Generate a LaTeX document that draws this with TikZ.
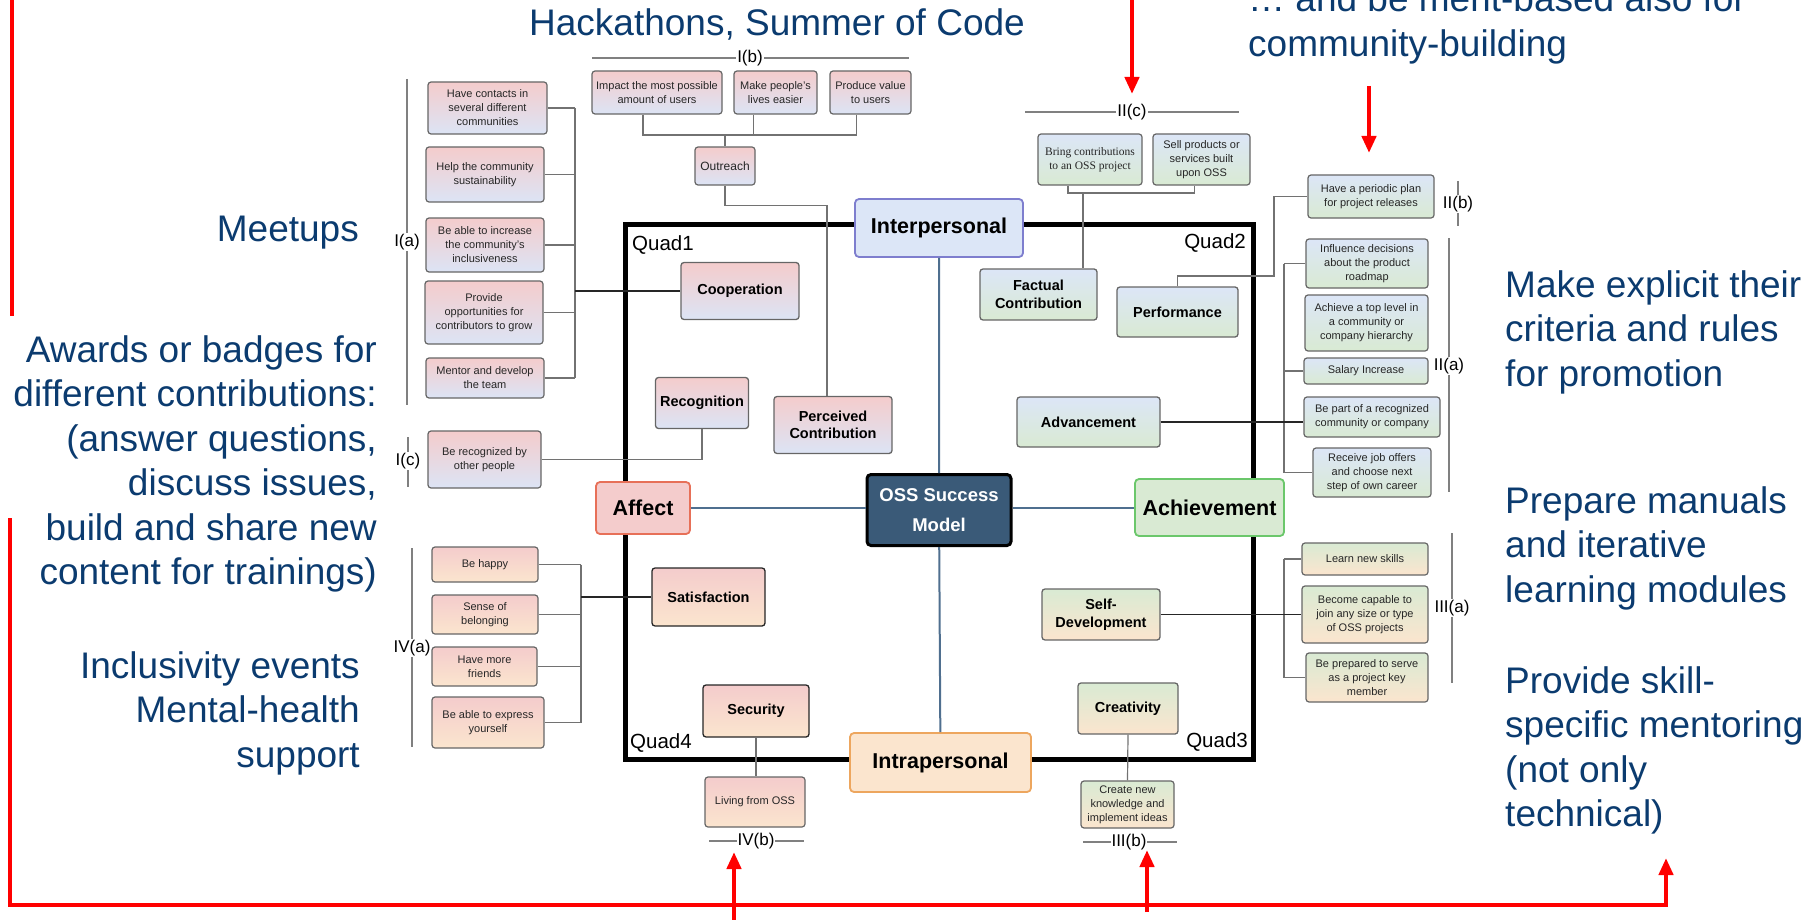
\documentclass[tikz,border=0pt]{standalone}
\usepackage{fontspec}
\setmainfont{Liberation Sans}
\newfontfamily\serifbox{Liberation Serif}
\usetikzlibrary{arrows.meta}

\definecolor{noteblue}{HTML}{0B3B6F}
\definecolor{redtop}{HTML}{F4CCCC}
\definecolor{bluebot}{HTML}{DCE4F5}
\definecolor{bluetop}{HTML}{DCE6F7}
\definecolor{greentop}{HTML}{D9EAD3}
\definecolor{orangebot}{HTML}{FBE5CE}
\definecolor{boxgray}{HTML}{666666}
\definecolor{linkgray}{HTML}{727272}
\definecolor{axisblue}{HTML}{4F6F8F}
\definecolor{ossfill}{HTML}{3A5A78}

\tikzset{
  dims/.style 2 args={minimum width=#1pt, minimum height=#2pt},
  leaf/.style={draw=boxgray, line width=1.2pt, rounded corners=3pt, align=center, inner sep=1pt,
    text=black!85, font=\fontsize{11}{14}\selectfont},
  facet/.style={draw=boxgray, line width=1.3pt, rounded corners=3pt, align=center, inner sep=1pt,
    font=\bfseries\fontsize{14.5}{17.5}\selectfont},
  pillar/.style={line width=1.8pt, rounded corners=4pt, align=center,
    font=\bfseries\fontsize{21.5}{24}\selectfont},
  qone/.style={top color=redtop, bottom color=bluebot},
  qtwo/.style={top color=bluetop, bottom color=greentop},
  qthree/.style={top color=greentop, bottom color=orangebot},
  qfour/.style={top color=redtop, bottom color=orangebot},
  link/.style={draw=linkgray, line width=1.2pt},
  wire/.style={draw=black!85, line width=1.3pt},
  axis/.style={draw=axisblue, line width=2pt},
  tagline/.style={draw=gray, line width=1.1pt},
  tag/.style={fill=white, inner sep=1pt, font=\fontsize{17}{19}\selectfont},
  quad/.style={inner sep=0pt, font=\fontsize{20.5}{22}\selectfont},
  note/.style={text=noteblue, inner sep=0pt, font=\fontsize{37}{44.5}\selectfont},
  redline/.style={draw=red, line width=4.5pt, line join=miter},
  redarrow/.style={redline, -{Triangle[length=17pt,width=14pt]}}
}

\begin{document}
\begin{tikzpicture}[x=1pt,y=-1pt]
  \useasboundingbox (0,0) rectangle (1817,920);

  \draw[line width=5pt] (625,224) rectangle (1253,759);

  \node[quad,anchor=west] (qa) at (632,245) {Quad1};
  \node[quad,anchor=east] (qb) at (1246,243) {Quad2};
  \node[quad,anchor=east] (qc) at (1248,742) {Quad3};
  \node[quad,anchor=west] (qd) at (630,743) {Quad4};

  \node[pillar,draw=black,line width=3pt,fill=ossfill,text=white,dims={144}{71},
    font=\bfseries\fontsize{18.5}{30}\selectfont] (oss) at (939,510) {OSS Success\\Model};
  \node[pillar,draw=blue!45!gray!70,fill=bluetop,dims={168}{58}] (inter) at (939,228) {Interpersonal};
  \node[pillar,draw=red!50!brown!75,fill=redtop,dims={94}{52}] (affect) at (643,508) {Affect};
  \node[pillar,draw=green!45!gray!80,fill=greentop,dims={149}{57}] (achieve) at (1209.5,507.5) {Achievement};
  \node[pillar,draw=orange!60!brown!70,fill=orangebot,dims={181}{59}] (intra) at (940.5,762.5) {Intrapersonal};

  \draw[axis] (inter) -- (oss) -- (intra);
  \draw[axis] (affect) -- (affect -| oss.west);
  \draw[axis] (oss.east |- achieve) -- (achieve);

  \node[facet,qone,dims={118}{57}] (coop) at (740,291) {Cooperation};
  \node[facet,qone,dims={93}{51}] (recog) at (702,403) {Recognition};
  \node[facet,qone,dims={118}{57}] (perc) at (833,425) {Perceived\\Contribution};
  \node[leaf,qone,dims={60}{38},font=\fontsize{12}{14}\selectfont] (outreach) at (725,166) {Outreach};
  \node[leaf,qone,dims={130}{43}] (impact) at (657,92.5) {Impact the most possible\\amount of users};
  \node[leaf,qone,dims={83}{43}] (people) at (775.5,92.5) {Make people's\\lives easier};
  \node[leaf,qone,dims={81}{43}] (produce) at (870.5,92.5) {Produce value\\to users};
  \node[leaf,qone,dims={119}{52}] (contacts) at (487.5,108) {Have contacts in\\several different\\communities};
  \node[leaf,qone,dims={118}{55}] (sustain) at (485,174.5) {Help the community\\sustainability};
  \node[leaf,qone,dims={118}{54}] (inclus) at (485,245) {Be able to increase\\the community's\\inclusiveness};
  \node[leaf,qone,dims={118}{63}] (provide) at (484,312.5) {Provide\\opportunities for\\contributors to grow};
  \node[leaf,qone,dims={118}{40}] (mentor) at (485,378) {Mentor and develop\\the team};
  \node[leaf,qone,dims={113}{57}] (recby) at (484.5,459.5) {Be recognized by\\other people};

  \node[facet,qtwo,dims={117}{51}] (factual) at (1038.5,294.5) {Factual\\Contribution};
  \node[facet,qtwo,dims={121}{50}] (perform) at (1177.5,312) {Performance};
  \node[facet,qtwo,dims={143}{50}] (advance) at (1088.5,422) {Advancement};
  \node[leaf,qtwo,dims={104}{51},font=\serifbox\fontsize{11.5}{14}\selectfont] (bring) at (1090,159.5) {Bring contributions\\to an OSS project};
  \node[leaf,qtwo,dims={97}{51}] (sell) at (1201.5,159.5) {Sell products or\\services built\\upon OSS};
  \node[leaf,qtwo,dims={126}{43}] (periodic) at (1371,196.5) {Have a periodic plan\\for project releases};
  \node[leaf,qtwo,dims={122}{49}] (influence) at (1367,263.5) {Influence decisions\\about the product\\roadmap};
  \node[leaf,qtwo,dims={123}{56}] (toplevel) at (1366.5,323) {Achieve a top level in\\a community or\\company hierarchy};
  \node[leaf,qtwo,dims={124}{26}] (salary) at (1366,371) {Salary Increase};
  \node[leaf,qtwo,dims={136}{40}] (partof) at (1372,417) {Be part of a recognized\\community or company};
  \node[leaf,qtwo,dims={118}{49}] (joboff) at (1372,472.5) {Receive job offers\\and choose next\\step of own career};

  \node[facet,qthree,dims={118}{51}] (selfdev) at (1101,614.5) {Self-\\Development};
  \node[facet,qthree,dims={100}{51}] (creat) at (1128,708.5) {Creativity};
  \node[leaf,qthree,dims={93}{47}] (createnew) at (1127.5,804.5) {Create new\\knowledge and\\implement ideas};
  \node[leaf,qthree,dims={126}{32}] (learn) at (1365,559) {Learn new skills};
  \node[leaf,qthree,dims={126}{57}] (capable) at (1365,614.5) {Become capable to\\join any size or type\\of OSS projects};
  \node[leaf,qthree,dims={122}{49}] (prepared) at (1367,677.5) {Be prepared to serve\\as a project key\\member};

  \node[facet,qfour,draw=black!85,dims={113}{58}] (satis) at (708.5,597) {Satisfaction};
  \node[facet,qfour,draw=black!85,dims={106}{52}] (secur) at (756,711) {Security};
  \node[leaf,qfour,dims={100}{50}] (living) at (755,802) {Living from OSS};
  \node[leaf,qfour,dims={106}{35}] (happy) at (485,564.5) {Be happy};
  \node[leaf,qfour,dims={106}{39}] (belong) at (485,614.5) {Sense of\\belonging};
  \node[leaf,qfour,dims={105}{39}] (friends) at (484.5,666.5) {Have more\\friends};
  \node[leaf,qfour,dims={112}{51}] (express) at (488,722.5) {Be able to express\\yourself};

  \coordinate (ia) at (575,291);
  \foreach \n in {contacts,sustain,inclus,provide,mentor}
    \draw[link] (\n.east) -- (\n.east -| ia);
  \draw[link] (contacts.east -| ia) -- (mentor.east -| ia);
  \draw[wire] (ia) -- (coop.west);
  \draw[link] (recby.east) -| (recog.south);

  \coordinate (ib) at (725,135);
  \draw[link] ([xshift=-14pt]impact.south) |- (ib) -| ([xshift=-14pt]produce.south);
  \draw[link] ([xshift=-22pt]people.south) -- ([xshift=-22pt]people.south |- ib);
  \draw[link] (ib) -- (outreach.north);
  \draw[link] (outreach.south) -- ++(0,20) -| ([xshift=-6pt]perc.north);

  \coordinate (iic) at (1083,193);
  \draw[link] ([xshift=-22pt]bring.south) |- (iic) -| ([xshift=-7pt]sell.south);
  \draw[link] (iic) -- (iic |- factual.north);
  \coordinate (iib) at (1274,276);
  \draw[link] (perform.north) |- (iib) |- (periodic.west);

  \coordinate (iia) at (1284,422);
  \foreach \n in {influence,salary,joboff}
    \draw[link] (\n.west) -- (\n.west -| iia);
  \draw[link] (influence.west -| iia) -- (joboff.west -| iia);
  \draw[wire] (advance.east) -- (advance.east -| partof.west);

  \coordinate (iiia) at (1284,614.5);
  \foreach \n in {learn,prepared}
    \draw[link] (\n.west) -- (\n.west -| iiia);
  \draw[link] (learn.west -| iiia) -- (prepared.west -| iiia);
  \draw[wire] (selfdev.east) -- (capable.west);
  \draw[link] (creat.south) -- (createnew.north);

  \coordinate (iva) at (581,597);
  \foreach \n in {happy,belong,friends,express}
    \draw[link] (\n.east) -- (\n.east -| iva);
  \draw[link] (happy.east -| iva) -- (express.east -| iva);
  \draw[wire] (iva) -- (satis.west);
  \draw[link] (secur.south) -- (secur.south |- living.north);

  \draw[tagline] (407,79) -- (407,405);
  \node[tag] (tia) at (407,242) {I(a)};
  \draw[tagline] (408,437) -- (408,487);
  \node[tag] (tic) at (408,461) {I(c)};
  \draw[tagline] (592,58) -- (909,58);
  \node[tag] (tib) at (750,58) {I(b)};
  \draw[tagline] (1025,112) -- (1239,112);
  \node[tag] (tiic) at (1132,112) {II(c)};
  \draw[tagline] (1458,181) -- (1458,226);
  \node[tag] (tiib) at (1458,204) {II(b)};
  \draw[tagline] (1449,238) -- (1449,492);
  \node[tag] (tiia) at (1449,366) {II(a)};
  \draw[tagline] (1452,533) -- (1452,683);
  \node[tag] (tiiia) at (1452,608) {III(a)};
  \draw[tagline] (1083,842) -- (1177,842);
  \node[tag] (tiiib) at (1129,842) {III(b)};
  \draw[tagline] (412,548) -- (412,747);
  \node[tag] (tiva) at (412,648) {IV(a)};
  \draw[tagline] (709,841) -- (804,841);
  \node[tag] (tivb) at (756,841) {IV(b)};

  \node[note,anchor=base] (hack) at (777,36) {Hackathons, Summer of Code};
  \node[note,anchor=base west,align=left] (merit) at (1248,56.5) {… and be merit-based also for\\community-building};
  \node[note,anchor=base east,align=right] (meet) at (359,241) {Meetups};
  \node[note,anchor=base east,align=right] (awards) at (377,584.5) {Awards or badges for\\different contributions:\\(answer questions,\\discuss issues,\\build and share new\\content for trainings)};
  \node[note,anchor=base east,align=right] (inclusive) at (360,767) {Inclusivity events\\Mental-health\\support};
  \node[note,anchor=base west,align=left] (explicit) at (1505,386) {Make explicit their\\criteria and rules\\for promotion};
  \node[note,anchor=base west,align=left] (manuals) at (1505,602) {Prepare manuals\\and iterative\\learning modules};
  \node[note,anchor=base west,align=left] (mentoring) at (1505,826.5) {Provide skill-\\specific mentoring\\(not only\\technical)};

  \coordinate (ra) at (12,-5);
  \coordinate (rb) at (12,316);
  \draw[redline] (ra) -- (rb);
  \coordinate (rc) at (10,518);
  \coordinate (rd) at (1666,905);
  \coordinate (re) at (1666,858);
  \draw[redarrow] (rc) |- (rd) -- (re);
  \coordinate (rf) at (734,925);
  \coordinate (rg) at (734,852);
  \draw[redarrow] (rf) -- (rg);
  \coordinate (rh) at (1147,912);
  \coordinate (ri) at (1147,850);
  \draw[redarrow] (rh) -- (ri);
  \coordinate (rj) at (1132,-5);
  \coordinate (rk) at (1132,94);
  \draw[redarrow] (rj) -- (rk);
  \coordinate (rl) at (1369,86);
  \coordinate (rm) at (1369,153);
  \draw[redarrow] (rl) -- (rm);
\end{tikzpicture}
\end{document}
